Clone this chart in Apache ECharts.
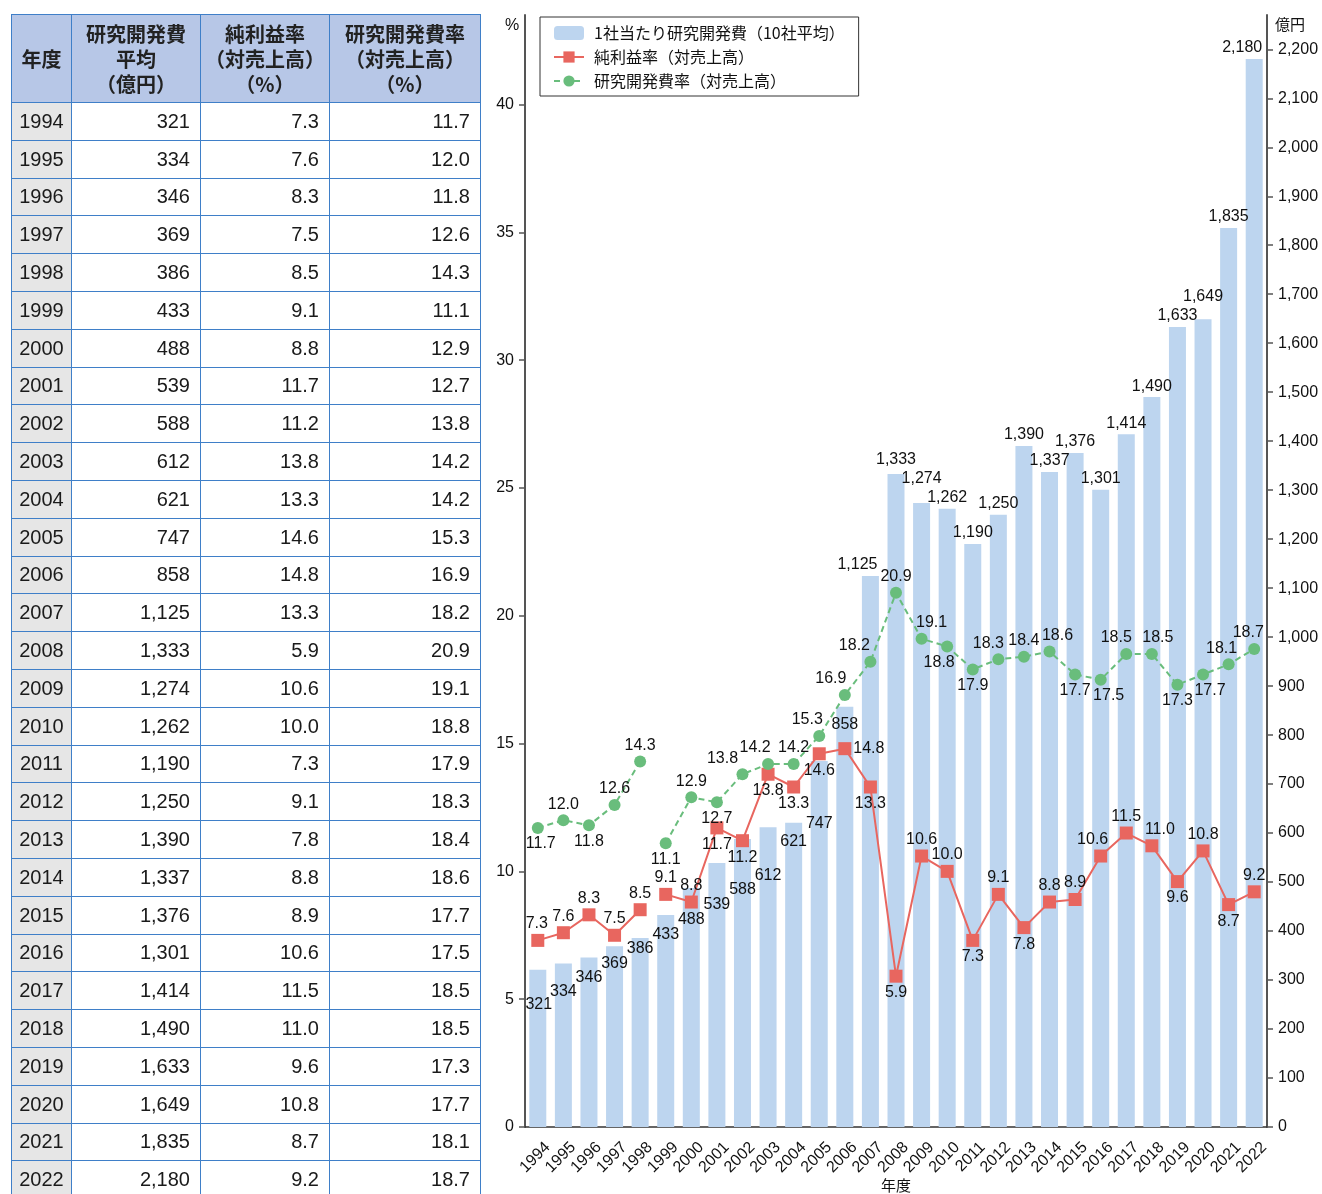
<!DOCTYPE html>
<html><head><meta charset="utf-8">
<script src="https://cdn.jsdelivr.net/npm/echarts@6/dist/echarts.min.js"></script>
<style>
html,body{margin:0;padding:0;background:#fff;overflow:hidden;width:1322px;height:1194px;}
#chart{position:absolute;left:0;top:0;width:1322px;height:1194px;}
#tbl{position:absolute;left:11px;top:14px;border-collapse:collapse;table-layout:fixed;font-family:"Liberation Sans","Noto Sans CJK JP",sans-serif;color:#1a1a1a;z-index:2;}
#tbl td,#tbl th{border:1.5px solid #3f7fc8;padding:0;box-sizing:border-box;}
#tbl th{background:#b7c7e7;font-weight:bold;font-size:20px;line-height:25px;height:88px;font-family:"Noto Sans CJK JP",sans-serif;color:#222;}
#tbl td{font-size:20px;height:37.8px;text-align:right;padding-right:10px;background:#fff;}
#tbl td.y{background:#e6e6e6;text-align:center;padding:0;}
</style></head>
<body>
<div id="chart"></div>
<table id="tbl"><colgroup><col style="width:60px"><col style="width:129px"><col style="width:129px"><col style="width:151px"></colgroup><thead><tr id="hdr"></tr></thead><tbody id="tb"></tbody></table>
<script>
// ---- data ----
const years = ['1994','1995','1996','1997','1998','1999','2000','2001','2002','2003','2004','2005','2006','2007','2008','2009','2010','2011','2012','2013','2014','2015','2016','2017','2018','2019','2020','2021','2022'];
const rdSpend = [321,334,346,369,386,433,488,539,588,612,621,747,858,1125,1333,1274,1262,1190,1250,1390,1337,1376,1301,1414,1490,1633,1649,1835,2180];
const netMargin = [7.3,7.6,8.3,7.5,8.5,9.1,8.8,11.7,11.2,13.8,13.3,14.6,14.8,13.3,5.9,10.6,10.0,7.3,9.1,7.8,8.8,8.9,10.6,11.5,11.0,9.6,10.8,8.7,9.2];
const rdRatio = [11.7,12.0,11.8,12.6,14.3,11.1,12.9,12.7,13.8,14.2,14.2,15.3,16.9,18.2,20.9,19.1,18.8,17.9,18.3,18.4,18.6,17.7,17.5,18.5,18.5,17.3,17.7,18.1,18.7];
const leftTicks = [0,5,10,15,20,25,30,35,40];
const rightTicks = [0,100,200,300,400,500,600,700,800,900,1000,1100,1200,1300,1400,1500,1600,1700,1800,1900,2000,2100,2200];
const seriesNames = ['1社当たり研究開発費（10社平均）','純利益率（対売上高）','研究開発費率（対売上高）'];
const tableHeaders = ['年度','研究開発費<br>平均<br>（億円）','純利益率<br>（対売上高）<br>（%）','研究開発費率<br>（対売上高）<br>（%）'];
const xAxisTitle = '年度';
const breakIndex = 5; // lines are broken between 1998 and 1999

// ---- label placement (style) ----
const barLabelOffset = [[1,46],[0,39],[0,31],[0,28],[0,22],[0,31],[0,43],[0,53],[0,62],[0,59],[0,30],[0,74],[0,29],[-13,0],[0,-3],[0,-13],[0,0],[0,0],[0,0],[0,0],[0,0],[0,0],[0,0],[0,0],[0,0],[0,0],[0,-12],[0,0],[-12,0]];
const redPos = ['top','top','top','top','top','top','top','bottom','bottom','bottom','bottom','bottom','right','bottom','bottom','top','top','bottom','top','bottom','top','top','top','top','top','bottom','top','bottom','top'];
const redDx = [-1,0,0,0,0,0,0,0,0,0,0,0,0,0,0,0,0,0,0,0,0,0,-8,0,8,0,0,0,0];
const greenPos = ['bottom','top','bottom','top','top','bottom','top','bottom','top','top','top','top','top','top','top','top','bottom','bottom','top','top','top','bottom','bottom','top','top','bottom','bottom','top','top'];
const greenDx = [3,0,0,0,0,0,0,0,-20,-13,0,-12,-14,-16,0,10,-8,0,-10,0,8,0,8,-10,6,0,7,-7,-6];

// ---- table ----
const fmt = v => v.toLocaleString('en-US');
document.getElementById('hdr').innerHTML = tableHeaders.map(h=>'<th>'+h+'</th>').join('');
document.getElementById('tb').innerHTML = years.map((y,i)=>
  '<tr><td class="y">'+y+'</td><td>'+fmt(rdSpend[i])+'</td><td>'+netMargin[i].toFixed(1)+'</td><td>'+rdRatio[i].toFixed(1)+'</td></tr>').join('');

// ---- chart ----
const FONT = '"Liberation Sans","Noto Sans CJK JP",sans-serif';
const RED = '#e8665f', GREEN = '#69bd7c', BAR = '#bdd5ef';

function lineSeg(arr, from, to, pos, dx, name, color, symbol, size, dashed){
  return {
    name: name, type:'line', yAxisIndex:0, z:3,
    data: arr.map((v,i)=> (i>=from && i<to) ? {value:v, label:{position:pos[i], offset:[dx[i],0]}} : '-'),
    symbol: symbol, symbolSize: size, showAllSymbol:true,
    itemStyle:{color:color},
    lineStyle:{color:color, width:2, type: dashed ? [6,4] : 'solid'},
    label:{show:true, distance:2, fontSize:16, color:'#111', fontFamily:FONT, formatter:p=>Number(p.value).toFixed(1)},
    emphasis:{disabled:true}, animation:false
  };
}

const chart = echarts.init(document.getElementById('chart'), null, {renderer:'canvas'});
chart.setOption({
  animation:false,
  textStyle:{fontFamily:FONT},
  grid:{left:525, right:55, top:15, bottom:67, containLabel:false, outerBoundsMode:'none'},
  legend:{
    data:seriesNames, orient:'vertical', left:540, top:17,
    padding:[8,14,7,13], itemGap:8, itemWidth:30, itemHeight:14,
    borderColor:'#333', borderWidth:1,
    textStyle:{fontSize:16, color:'#111', fontFamily:'"Noto Sans CJK JP","Liberation Sans",sans-serif', lineHeight:16, padding:[0,0,0,5]},
    selectedMode:false
  },
  xAxis:{
    type:'category', data:years,
    axisLine:{lineStyle:{color:'#333', width:1.5}},
    axisTick:{show:false},
    axisLabel:{rotate:45, fontSize:16, color:'#111', margin:8, interval:0, verticalAlign:'top', padding:[6,0,0,0]}
  },
  yAxis:[{
    type:'value', min:0, max:43.5, interval:5, position:'left',
    axisLine:{show:true, lineStyle:{color:'#555', width:2}},
    axisTick:{show:true, length:6, lineStyle:{color:'#555', width:1.5}, customValues:leftTicks},
    axisLabel:{fontSize:16, color:'#111', margin:11, customValues:leftTicks},
    splitLine:{show:false}
  },{
    type:'value', min:0, max:2270, interval:100, position:'right',
    axisLine:{show:true, lineStyle:{color:'#555', width:2}},
    axisTick:{show:true, length:6, lineStyle:{color:'#555', width:1.5}, customValues:rightTicks},
    axisLabel:{fontSize:16, color:'#111', margin:11, customValues:rightTicks, formatter:v=>fmt(v)},
    splitLine:{show:false}
  }],
  graphic:[
    {type:'text', left:505, top:18, style:{text:'%', fontSize:16, fill:'#111', fontFamily:FONT}},
    {type:'text', left:1275, top:17, style:{text:'億円', fontSize:15, fill:'#111', fontFamily:'"Noto Sans CJK JP",sans-serif'}},
    {type:'text', x:896, y:1185, style:{text:xAxisTitle, align:'center', verticalAlign:'middle', fontSize:15, fill:'#111', fontFamily:'"Noto Sans CJK JP",sans-serif'}}
  ],
  series:[
    {
      name:seriesNames[0], type:'bar', yAxisIndex:1, z:1, barWidth:17,
      itemStyle:{color:BAR},
      data: rdSpend.map((v,i)=>({value:v, label:{offset:barLabelOffset[i]}})),
      label:{show:true, position:'top', distance:3, fontSize:16, color:'#111', fontFamily:FONT, formatter:p=>fmt(p.value)},
      emphasis:{disabled:true}
    },
    lineSeg(netMargin, 0, breakIndex, redPos, redDx, seriesNames[1], RED, 'rect', 13, false),
    lineSeg(netMargin, breakIndex, years.length, redPos, redDx, seriesNames[1], RED, 'rect', 13, false),
    lineSeg(rdRatio, 0, breakIndex, greenPos, greenDx, seriesNames[2], GREEN, 'circle', 12, true),
    lineSeg(rdRatio, breakIndex, years.length, greenPos, greenDx, seriesNames[2], GREEN, 'circle', 12, true)
  ]
});
</script>
</body></html>
